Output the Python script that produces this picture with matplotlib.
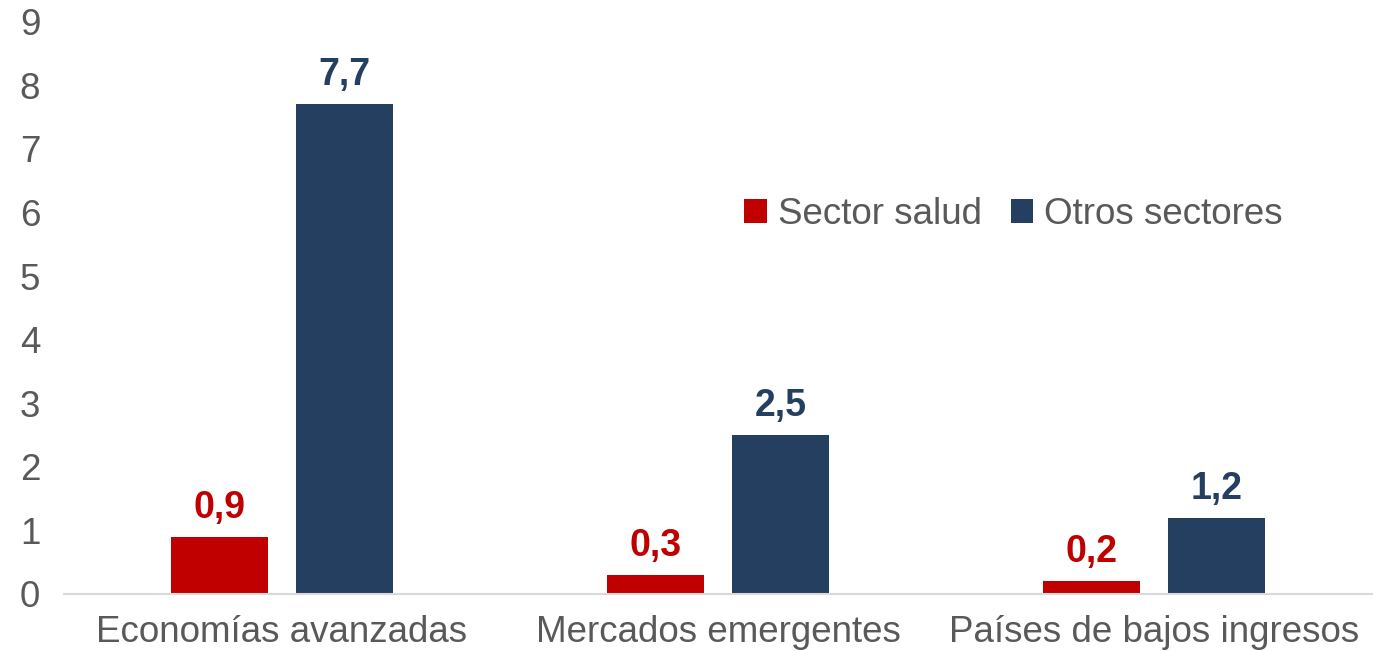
import numpy as np
import matplotlib.pyplot as plt

plt.rcParams['font.family'] = ['Liberation Sans', 'DejaVu Sans']

categorias = ["Economías avanzadas", "Mercados emergentes", "Países de bajos ingresos"]
salud = [0.9, 0.3, 0.2]
otros = [7.7, 2.5, 1.2]
series = ["Sector salud", "Otros sectores"]

ROJO = "#C00000"
AZUL = "#253F60"
GRIS = "#595959"

fig = plt.figure(figsize=(13.81, 6.51), dpi=100)
ax = fig.add_axes([0.0463, 0.0876, 0.9472, 0.879])

x = np.arange(len(categorias))
w = 0.222
off = 0.143
b1 = ax.bar(x - off, salud, w, color=ROJO, label=series[0])
b2 = ax.bar(x + off, otros, w, color=AZUL, label=series[1])

for bars, vals, col in [(b1, salud, ROJO), (b2, otros, AZUL)]:
    for r, v in zip(bars, vals):
        ax.annotate(f"{v:.1f}".replace(".", ","), (r.get_x() + r.get_width() / 2, v),
                    xytext=(0, 8), textcoords="offset points", ha="center", va="bottom",
                    fontsize=27, fontweight="bold", color=col)

ax.set_xlim(-0.5, 2.5)
ax.set_ylim(0, 9)
ax.set_yticks(range(10))
ax.set_xticks(x)
ax.set_xticklabels(categorias)
ax.tick_params(axis="both", length=0, labelsize=26.5, labelcolor=GRIS)
ax.tick_params(axis="y", pad=17)
ax.tick_params(axis="x", pad=15)
for s in ["top", "right", "left"]:
    ax.spines[s].set_visible(False)
ax.spines["bottom"].set_color("#D9D9D9")
ax.spines["bottom"].set_linewidth(1.5)

leg = ax.legend(loc="center", bbox_to_anchor=(0.726, 0.663), ncol=2, frameon=False,
                fontsize=26.5, handlelength=0.6, handleheight=0.6, handletextpad=0.3,
                columnspacing=0.8, labelcolor=GRIS)

fig.savefig("out.png", dpi=100)
